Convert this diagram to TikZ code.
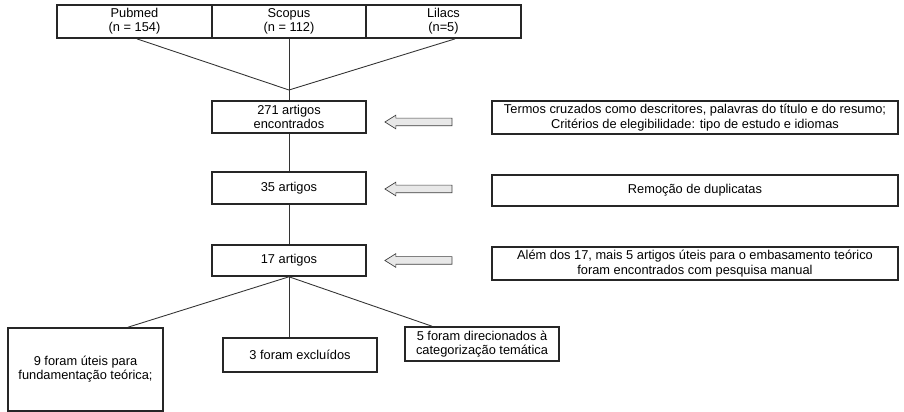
\documentclass[tikz,border=0pt]{standalone}
\usepackage{fontspec}
\setmainfont{Liberation Sans}
\usepackage{tikz}
\usetikzlibrary{
  arrows.meta,
  positioning,
  calc,
  shapes.arrows
}
\tikzset{
  stepbox/.style={
    draw=black!85,
    line width=0.9pt,
    minimum width=154*0.02cm,
    minimum height=32*0.02cm,
    inner sep=2pt,
    align=center,
    font=\fontsize{7.3}{8.1}\selectfont,
  },
  notebox/.style={
    stepbox,
    minimum width=406*0.02cm,
  },
  blockarr/.style={
    draw=black!75,
    fill=gray!18,
    line width=0.4pt,
    single arrow,
    shape border rotate=180,
    single arrow tip angle=64,
    single arrow head extend=0.06cm,
    minimum height=67*0.02cm,
    inner sep=0.07cm,
  },
  conn/.style={
    draw=black!80,
    line width=0.5pt,
  },
}

\begin{document}
\begin{tikzpicture}[
  x=0.02cm, y=-0.02cm,
  every node/.style={align=center},
]
  \useasboundingbox (0,0) rectangle (904,412);

  % Row 1 --- databases
  \node[stepbox, minimum width=155*0.02cm, minimum height=33*0.02cm] (pubmed) at (134.5,21.5) {Pubmed\\(n = 154)};
  \node[stepbox, minimum height=33*0.02cm] (scopus) at (289,21.5) {Scopus\\(n = 112)};
  \node[stepbox, minimum width=155*0.02cm, minimum height=33*0.02cm] (lilacs) at (443.5,21.5) {Lilacs\\(n=5)};
  \coordinate (join) at (289,90);

  % Main column
  \node[stepbox] (found) at (289,117) {271 artigos\\encontrados};
  \node[stepbox] (dup)   at (289,188) {35 artigos};
  \node[stepbox, minimum height=31*0.02cm] (sel) at (289,260.5) {17 artigos};

  \draw[conn] ($(pubmed.south)+(2.5,0)$) -- (join);
  \draw[conn] (scopus.south) -- (join);
  \draw[conn] ($(lilacs.south)+(11.5,0)$) -- (join);
  \draw[conn] (join) -- (found.north);
  \draw[conn] (found) -- (dup);
  \draw[conn] (dup) -- (sel);

  % Right column --- notes
  \node[notebox, minimum height=31*0.02cm] (crit) at (695,117.5)
    {Termos cruzados como descritores, palavras do título e do resumo;\\Critérios de elegibilidade: tipo de estudo e idiomas};
  \node[notebox, minimum height=31*0.02cm] (remov) at (695,190.5) {Remoção de duplicatas};
  \node[notebox, minimum height=33*0.02cm] (manual) at (695,263.5)
    {Além dos 17, mais 5 artigos úteis para o embasamento teórico\\foram encontrados com pesquisa manual};

  \node[blockarr] (arrcrit)   at (421.5,122) {};
  \node[blockarr] (arrremov)  at (421.5,189) {};
  \node[blockarr] (arrmanual) at (421.5,260.5) {};

  % Bottom row --- outcome
  \node[stepbox, minimum width=155*0.02cm, minimum height=83*0.02cm] (useful) at (85.5,369.5)
    {9 foram úteis para\\fundamentação teórica;};
  \node[stepbox, minimum height=34*0.02cm] (excl) at (300,355) {3 foram excluídos};
  \node[stepbox, minimum height=34*0.02cm] (themat) at (482,344)
    {5 foram direcionados à\\categorização temática};

  \draw[conn] (sel.south) -- ($(useful.north)+(42.5,0)$);
  \draw[conn] (sel.south) -- (sel.south |- excl.north);
  \draw[conn] (sel.south) -- ($(themat.north)+(-50,0)$);
\end{tikzpicture}
\end{document}
